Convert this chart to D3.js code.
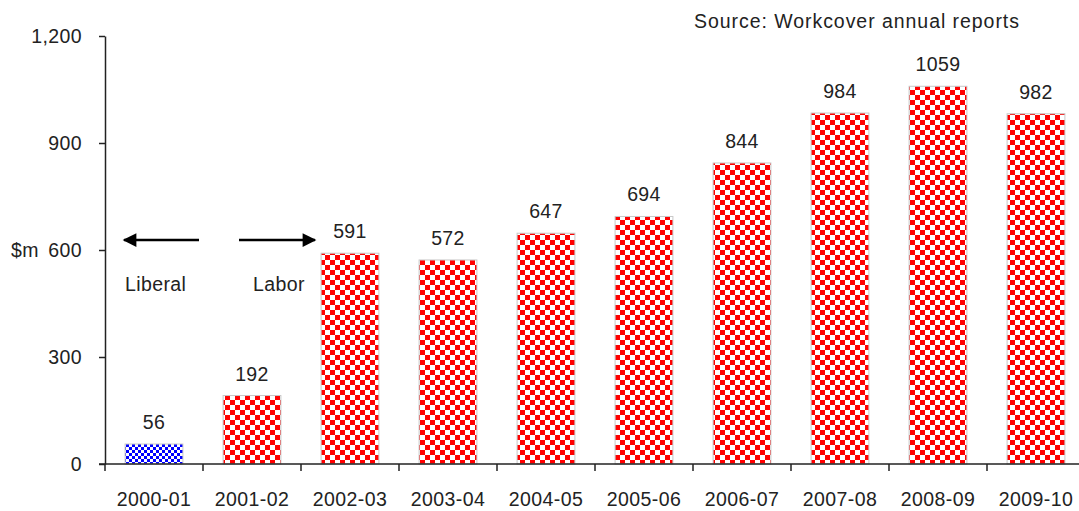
<!DOCTYPE html>
<html>
<head>
<meta charset="utf-8">
<script src="https://cdn.jsdelivr.net/npm/d3@7"></script>
<style>
  body { margin: 0; background: #fff; }
  svg { display: block; font-family: "Liberation Sans", Arial, sans-serif; }
  text { letter-spacing: 0.4px; }
</style>
</head>
<body>
<div id="grafico"></div>
<script>
const anios = ["2000-01", "2001-02", "2002-03", "2003-04", "2004-05", "2005-06", "2006-07", "2007-08", "2008-09", "2009-10"];
const valores = [56, 192, 591, 572, 647, 694, 844, 984, 1059, 982];
const gobierno = ["Liberal", "Labor", "Labor", "Labor", "Labor", "Labor", "Labor", "Labor", "Labor", "Labor"];
const ticksY = [0, 300, 600, 900, 1200];

const width = 1079, height = 511;
const x0 = 105, y0 = 464;
const fuente = "19.5px";

const svg = d3.select("#grafico")
    .append("svg")
    .attr("width", width)
    .attr("height", height);

// patrones de cuadritos
const defs = svg.append("defs");
const rojo = defs.append("pattern")
    .attr("id", "cuadros-rojo")
    .attr("patternUnits", "userSpaceOnUse")
    .attr("width", 10).attr("height", 10);
rojo.append("rect").attr("width", 10).attr("height", 10).attr("fill", "#fff");
rojo.append("rect").attr("width", 5).attr("height", 5).attr("fill", "#ff0000");
rojo.append("rect").attr("x", 5).attr("y", 5).attr("width", 5).attr("height", 5).attr("fill", "#ff0000");

const azul = defs.append("pattern")
    .attr("id", "cuadros-azul")
    .attr("patternUnits", "userSpaceOnUse")
    .attr("width", 6).attr("height", 6);
azul.append("rect").attr("width", 6).attr("height", 6).attr("fill", "#fff");
azul.append("rect").attr("width", 3).attr("height", 3).attr("fill", "#0000ff");
azul.append("rect").attr("x", 3).attr("y", 3).attr("width", 3).attr("height", 3).attr("fill", "#0000ff");

const x = d3.scaleBand()
    .domain(anios)
    .range([x0, x0 + 980])
    .paddingInner(0.41)
    .paddingOuter(0.205);

const y = d3.scaleLinear()
    .domain([0, 1200])
    .range([y0, 36]);

// barras
svg.selectAll(".bar")
    .data(anios)
    .enter()
    .append("rect")
    .attr("class", "bar")
    .attr("x", d => x(d))
    .attr("y", (d, i) => y(valores[i]))
    .attr("width", x.bandwidth())
    .attr("height", (d, i) => y0 - y(valores[i]))
    .attr("fill", (d, i) => gobierno[i] === "Liberal" ? "url(#cuadros-azul)" : "url(#cuadros-rojo)")
    .attr("stroke", "#c8c8c8")
    .attr("stroke-width", 1);

// etiquetas de valores
svg.selectAll(".valor")
    .data(anios)
    .enter()
    .append("text")
    .attr("x", d => x(d) + x.bandwidth() / 2)
    .attr("y", (d, i) => y(valores[i]) - 15)
    .attr("text-anchor", "middle")
    .attr("font-size", fuente)
    .attr("fill", "#222")
    .text((d, i) => valores[i]);

// eje y
const ejeY = svg.append("g")
    .attr("transform", `translate(${x0},0)`)
    .call(d3.axisLeft(y).tickValues(ticksY).tickSize(6).tickSizeOuter(0).tickPadding(17)
        .tickFormat(d3.format(",")));
ejeY.select(".domain").attr("stroke", "#222").attr("stroke-width", 1.5);
ejeY.selectAll(".tick line").attr("stroke", "#222").attr("stroke-width", 1.5);
ejeY.selectAll("text").attr("font-size", fuente).attr("fill", "#222").attr("font-family", "Liberation Sans, Arial, sans-serif");

// eje x
const ejeX = svg.append("g")
    .attr("transform", `translate(0,${y0})`);
ejeX.append("line")
    .attr("x1", x0 - 6).attr("x2", width)
    .attr("stroke", "#222").attr("stroke-width", 1.5);
ejeX.selectAll(".tickx")
    .data(anios)
    .enter()
    .append("line")
    .attr("x1", d => x(d) - x.step() * 0.205)
    .attr("x2", d => x(d) - x.step() * 0.205)
    .attr("y1", 0).attr("y2", 7)
    .attr("stroke", "#222").attr("stroke-width", 1.5);
ejeX.selectAll(".etq")
    .data(anios)
    .enter()
    .append("text")
    .attr("x", d => x(d) + x.bandwidth() / 2)
    .attr("y", 42)
    .attr("text-anchor", "middle")
    .attr("font-size", fuente)
    .attr("fill", "#222")
    .text(d => d);

// textos
svg.append("text")
    .attr("x", 11).attr("y", 257)
    .attr("font-size", fuente).attr("fill", "#222")
    .text("$m");

svg.append("text")
    .attr("x", 694).attr("y", 28)
    .attr("font-size", fuente).attr("fill", "#222")
    .style("letter-spacing", "0.95px")
    .text("Source: Workcover annual reports");

svg.append("text")
    .attr("x", 125).attr("y", 291)
    .attr("font-size", fuente).attr("fill", "#222")
    .text("Liberal");

svg.append("text")
    .attr("x", 253).attr("y", 291)
    .attr("font-size", fuente).attr("fill", "#222")
    .text("Labor");

// flechas
defs.append("marker")
    .attr("id", "punta")
    .attr("viewBox", "0 0 10 10")
    .attr("refX", 9).attr("refY", 5)
    .attr("markerWidth", 7).attr("markerHeight", 5.5)
    .attr("markerUnits", "strokeWidth")
    .attr("orient", "auto")
    .append("path")
    .attr("d", "M0,0 L10,5 L0,10 Z")
    .attr("fill", "#000");

svg.append("line")
    .attr("x1", 199).attr("y1", 240).attr("x2", 124).attr("y2", 240)
    .attr("stroke", "#000").attr("stroke-width", 2.5)
    .attr("marker-end", "url(#punta)");

svg.append("line")
    .attr("x1", 239).attr("y1", 240).attr("x2", 315).attr("y2", 240)
    .attr("stroke", "#000").attr("stroke-width", 2.5)
    .attr("marker-end", "url(#punta)");
</script>
</body>
</html>
